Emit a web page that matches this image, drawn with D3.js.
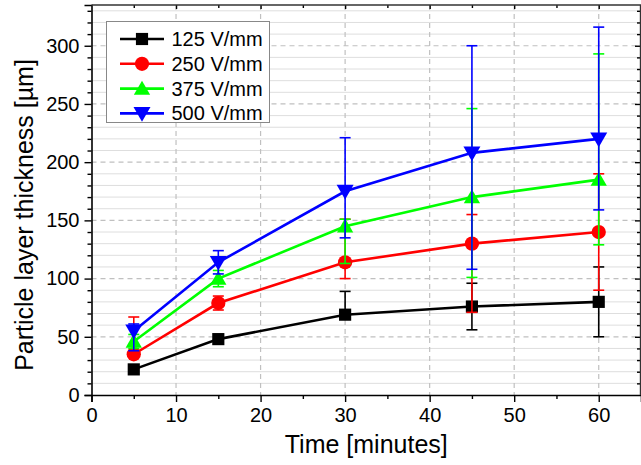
<!DOCTYPE html>
<html><head><meta charset="utf-8">
<script src="https://cdn.jsdelivr.net/npm/d3@7"></script>
<style>
html,body{margin:0;padding:0;background:#fff;}
svg{display:block;font-family:"Liberation Sans",Arial,sans-serif;}
</style></head>
<body>
<svg id="chart" width="641" height="465"></svg>
<script>
// ---- data ----
const times = [5, 15, 30, 45, 60];
const seriesNames = ["125 V/mm", "250 V/mm", "375 V/mm", "500 V/mm"];
const seriesColors = ["#000000", "#ff0000", "#00ff00", "#0000ff"];
const seriesShapes = ["square", "circle", "triangle", "triangleDown"];
const v125 = [22, 48, 69, 76, 80];
const v250 = [35, 79, 114, 130, 140];
const v375 = [46, 100, 145, 170, 185];
const v500 = [55, 114, 175, 208, 220];
// error bar bounds (low / high)
const lo125 = [22, 48, 69, 56, 50];
const hi125 = [22, 48, 89, 96, 110];
const lo250 = [35, 73, 100, 71, 90];
const hi250 = [67, 85, 151, 155, 190];
const lo375 = [40, 93, 113, 101, 129];
const hi375 = [52, 107, 151, 246, 293];
const lo500 = [38, 104, 135, 108, 159];
const hi500 = [61, 124, 221, 300, 316];
const xTicks = [0, 10, 20, 30, 40, 50, 60];
const yTicks = [0, 50, 100, 150, 200, 250, 300];
const xTitle = "Time [minutes]";
const yTitle = "Particle layer thickness [\u00b5m]";

const values = [v125, v250, v375, v500];
const lows = [lo125, lo250, lo375, lo500];
const highs = [hi125, hi250, hi375, hi500];

// ---- layout ----
const L = 91.5, R = 641, T = 5, B = 395;
const svg = d3.select("#chart");
const x = d3.scaleLinear().domain([0, 65]).range([L, R]);
const y = d3.scaleLinear().domain([0, 335]).range([B, T]);

const g = svg.append("g");

// minor horizontal grid
const yMinor = d3.range(10, 335, 10).filter(v => v % 50 !== 0);
g.append("g").selectAll("line").data(yMinor).join("line")
  .attr("x1", L).attr("x2", R).attr("y1", d => y(d)).attr("y2", d => y(d))
  .attr("stroke", "#dedede").attr("stroke-width", 1);
// major dashed grids
g.append("g").selectAll("line").data(yTicks.filter(v => v > 0)).join("line")
  .attr("x1", L).attr("x2", R).attr("y1", d => y(d)).attr("y2", d => y(d))
  .attr("stroke", "#c0c0c0").attr("stroke-width", 1.2).attr("stroke-dasharray", "5,4");
g.append("g").selectAll("line").data(xTicks.filter(v => v > 0)).join("line")
  .attr("y1", T).attr("y2", B).attr("x1", d => x(d)).attr("x2", d => x(d))
  .attr("stroke", "#c0c0c0").attr("stroke-width", 1.2).attr("stroke-dasharray", "5,4");

// axes
const fontTick = "20px";
const xAxis = d3.axisBottom(x).tickValues(xTicks).tickSize(7).tickPadding(6).tickFormat(d3.format("d"));
const gx = svg.append("g").attr("transform", `translate(0,${B})`).call(xAxis);
gx.selectAll("text").attr("font-size", fontTick).attr("fill", "#000").attr("font-family", "Liberation Sans, Arial, sans-serif");
const xMinorAxis = d3.axisBottom(x).tickValues(d3.range(5, 65, 10)).tickSize(4).tickFormat("");
svg.append("g").attr("transform", `translate(0,${B})`).call(xMinorAxis).select(".domain").remove();

const yAxis = d3.axisLeft(y).tickValues(yTicks).tickSize(7).tickPadding(5).tickFormat(d3.format("d"));
const gy = svg.append("g").attr("transform", `translate(${L},0)`).call(yAxis);
gy.selectAll("text").attr("font-size", fontTick).attr("fill", "#000").attr("font-family", "Liberation Sans, Arial, sans-serif");
const yMinorAxis = d3.axisLeft(y).tickValues(yMinor).tickSize(4).tickFormat("");
svg.append("g").attr("transform", `translate(${L},0)`).call(yMinorAxis).select(".domain").remove();

// top and right mirrored ticks (inward)
const topAx = d3.axisBottom(x).tickValues(xTicks.filter(v => v > 0)).tickSize(4).tickFormat("");
svg.append("g").attr("transform", `translate(0,${T})`).call(topAx).select(".domain").remove();
const topMin = d3.axisBottom(x).tickValues(d3.range(5, 65, 10)).tickSize(3).tickFormat("");
svg.append("g").attr("transform", `translate(0,${T})`).call(topMin).select(".domain").remove();
const rightAx = d3.axisLeft(y).tickValues(yTicks.filter(v => v > 0)).tickSize(6).tickFormat("");
svg.append("g").attr("transform", `translate(${R},0)`).call(rightAx).select(".domain").remove();
const rightMin = d3.axisLeft(y).tickValues(yMinor).tickSize(4).tickFormat("");
svg.append("g").attr("transform", `translate(${R},0)`).call(rightMin).select(".domain").remove();

svg.selectAll(".tick line").attr("stroke", "#000").attr("stroke-width", 1.4);
svg.selectAll(".domain").attr("stroke", "#000").attr("stroke-width", 1.6);

// frame top / right
svg.append("line").attr("x1", L).attr("x2", R).attr("y1", T).attr("y2", T).attr("stroke", "#333").attr("stroke-width", 1.4);
svg.append("line").attr("x1", R - 0.5).attr("x2", R - 0.5).attr("y1", T).attr("y2", B).attr("stroke", "#333").attr("stroke-width", 1.4);

// titles
svg.append("text").attr("x", (L + R) / 2).attr("y", 453).attr("text-anchor", "middle")
  .attr("font-size", "25px").attr("fill", "#000").text(xTitle);
svg.append("text").attr("transform", "translate(33,215) rotate(-90)").attr("text-anchor", "middle")
  .attr("font-size", "25px").attr("fill", "#000").text(yTitle);

// markers
const symbolFor = {
  square: d3.symbol().type(d3.symbolSquare).size(148),
  circle: d3.symbol().type(d3.symbolCircle).size(160),
  triangle: d3.symbol().type(d3.symbolTriangle).size(115),
  triangleDown: d3.symbol().type(d3.symbolTriangle).size(125)
};
function drawMarker(sel, shape, color, cx, cy) {
  const p = sel.append("path").attr("d", symbolFor[shape]()).attr("fill", color).attr("stroke", "none");
  const rot = shape === "triangleDown" ? " rotate(180)" : "";
  const dy = shape === "triangle" ? 1.5 : (shape === "triangleDown" ? -1.5 : 0);
  p.attr("transform", `translate(${cx},${cy + dy})${rot}`);
}

const plot = svg.append("g");
const line = d3.line().x(d => x(d[0])).y(d => y(d[1]));
const capW = 5.5;
seriesNames.forEach((name, i) => {
  const sg = plot.append("g");
  const col = seriesColors[i];
  const pts = times.map((t, j) => [t, values[i][j]]);
  sg.append("path").attr("d", line(pts)).attr("fill", "none").attr("stroke", col).attr("stroke-width", 2.6);
  pts.forEach(p => drawMarker(sg, seriesShapes[i], col, x(p[0]), y(p[1])));
  times.forEach((t, j) => {
    const lo = lows[i][j], hi = highs[i][j], v = values[i][j];
    if (hi > v) {
      sg.append("line").attr("x1", x(t)).attr("x2", x(t)).attr("y1", y(v)).attr("y2", y(hi)).attr("stroke", col).attr("stroke-width", 1.6);
      sg.append("line").attr("x1", x(t) - capW).attr("x2", x(t) + capW).attr("y1", y(hi)).attr("y2", y(hi)).attr("stroke", col).attr("stroke-width", 1.6);
    }
    if (lo < v) {
      sg.append("line").attr("x1", x(t)).attr("x2", x(t)).attr("y1", y(v)).attr("y2", y(lo)).attr("stroke", col).attr("stroke-width", 1.6);
      sg.append("line").attr("x1", x(t) - capW).attr("x2", x(t) + capW).attr("y1", y(lo)).attr("y2", y(lo)).attr("stroke", col).attr("stroke-width", 1.6);
    }
  });
});

// legend
const lg = svg.append("g");
lg.append("rect").attr("x", 106.5).attr("y", 21.5).attr("width", 163).attr("height", 101)
  .attr("fill", "#fff").attr("stroke", "#888").attr("stroke-width", 1);
seriesNames.forEach((name, i) => {
  const ry = 39 + i * 24.8;
  lg.append("line").attr("x1", 120).attr("x2", 164).attr("y1", ry).attr("y2", ry)
    .attr("stroke", seriesColors[i]).attr("stroke-width", 2.6);
  drawMarker(lg, seriesShapes[i], seriesColors[i], 142, ry);
  lg.append("text").attr("x", 171.5).attr("y", ry).attr("dy", "0.35em")
    .attr("font-size", "20px").attr("fill", "#000").text(name);
});
</script>
</body></html>
